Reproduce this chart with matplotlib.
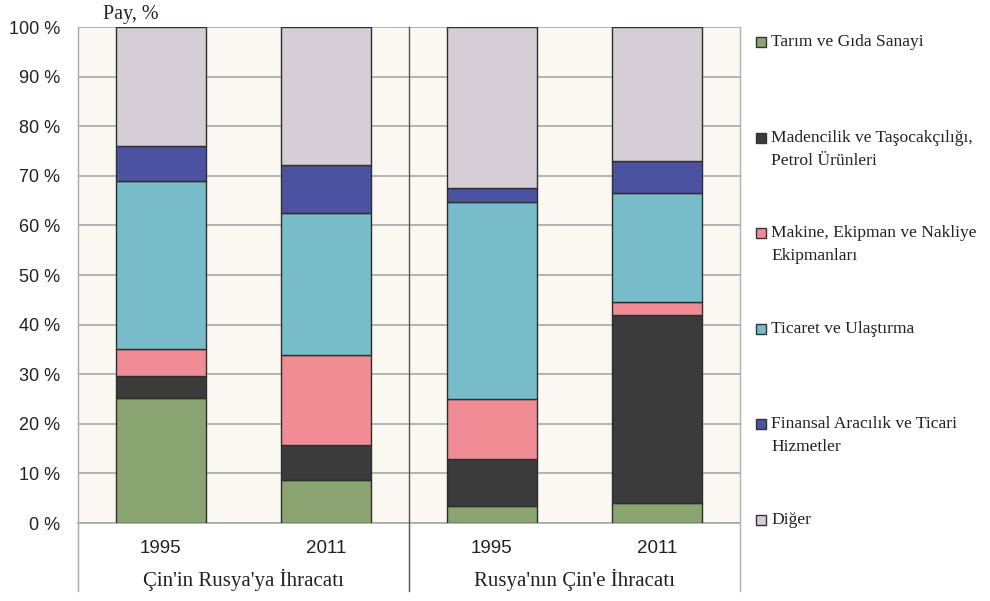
import numpy as np
import matplotlib.pyplot as plt
from matplotlib.patches import Rectangle

# Data (share of exports, %)
years = ['1995', '2011', '1995', '2011']
groups = ["Çin'in Rusya'ya İhracatı", "Rusya'nın Çin'e İhracatı"]
sectors = ['Tarım ve Gıda Sanayi',
           'Madencilik ve Taşocakçılığı,\nPetrol Ürünleri',
           'Makine, Ekipman ve Nakliye\nEkipmanları',
           'Ticaret ve Ulaştırma',
           'Finansal Aracılık ve Ticari\nHizmetler',
           'Diğer']
tarim = [25.2, 8.7, 3.5, 4.0]
madencilik = [4.5, 7.0, 9.5, 37.9]
makine = [5.3, 18.2, 12.0, 2.7]
ticaret = [34.0, 28.6, 39.7, 21.9]
finansal = [7.0, 9.7, 2.8, 6.5]
diger = [24.0, 27.8, 32.5, 27.0]
colors = ['#8BA572', '#3B3B3B', '#F08C94', '#77BCC8', '#4B53A0', '#D5CED6']

series = [tarim, madencilik, makine, ticaret, finansal, diger]

fig = plt.figure(figsize=(9.9, 6.01), dpi=100)
ax = fig.add_axes([78/990, 78/601, 662/990, 496/601])
ax.set_facecolor('#FBF7F1')

x = np.arange(len(years))
bottom = np.zeros(len(years))
for vals, c in zip(series, colors):
    ax.bar(x, vals, width=0.545, bottom=bottom, color=c, edgecolor='#2E2E2E',
           linewidth=1.0, zorder=3)
    bottom += np.array(vals)

ax.set_xlim(-0.5, 3.5)
ax.set_ylim(0, 100)
ax.set_yticks(np.arange(0, 101, 10))
ax.set_yticklabels([f'{v} %' for v in range(0, 101, 10)],
                   fontfamily='Liberation Sans', fontsize=13, color='#222222')
ax.set_xticks(x)
ax.set_xticklabels(years, fontfamily='Liberation Sans', fontsize=13.5, color='#222222')
ax.tick_params(axis='both', length=0)
ax.tick_params(axis='x', pad=12)
ax.tick_params(axis='y', pad=13)
ax.grid(axis='y', color='#A8A8A8', linewidth=1.2, zorder=0)
for s in ['top', 'right', 'left']:
    ax.spines[s].set_visible(False)
ax.spines['bottom'].set_color('#A8A8A8')
ax.spines['bottom'].set_linewidth(1.2)

# separator lines extending below the axis
ax.plot([1.5, 1.5], [-13.7, 100], color='#555555', linewidth=1.0, clip_on=False, zorder=4)
ax.plot([-0.5, -0.5], [-13.7, 100], color='#A8A8A8', linewidth=1.0, clip_on=False, zorder=4)
ax.plot([3.5, 3.5], [-13.7, 100], color='#B0B0B0', linewidth=1.0, clip_on=False, zorder=4)

for i, g in enumerate(groups):
    ax.text(0.5 + 2 * i, -11.5, g, ha='center', va='center',
            fontfamily='Liberation Serif', fontsize=15, color='#222222')

fig.text(103/990, 1 - 14/601, 'Pay, %', ha='left', va='center',
         fontfamily='Liberation Serif', fontsize=14.5, color='#222222')

# legend
for i, (lab, c) in enumerate(zip(sectors, colors)):
    yc = 42 + i * 95.6
    fig.add_artist(Rectangle((756/990, 1 - (yc + 5) / 601), 10/990, 10/601,
                             facecolor=c, edgecolor='#333333', linewidth=1.0,
                             transform=fig.transFigure))
    for j, line in enumerate(lab.split('\n')):
        fig.text(771/990, 1 - (yc + j * 23) / 601, line, ha='left', va='center',
                 fontfamily='Liberation Serif', fontsize=12.6, color='#222222')

fig.savefig('out.png', dpi=100)
